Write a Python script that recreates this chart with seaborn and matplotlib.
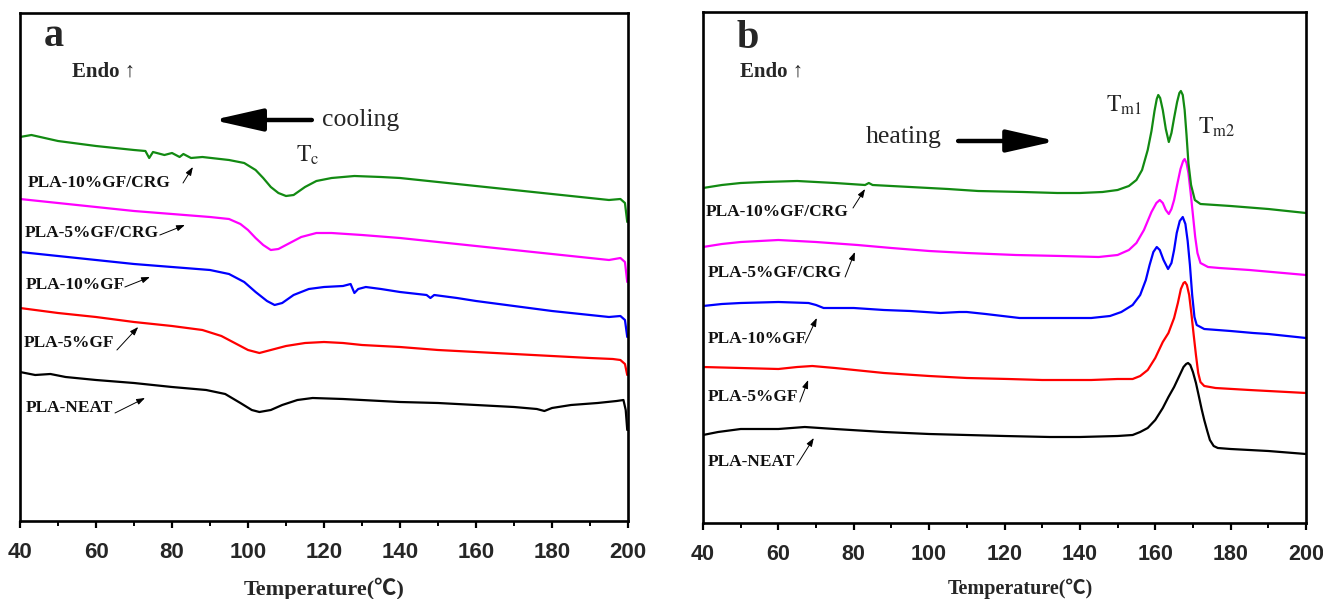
import numpy as np
import pandas as pd
import seaborn as sns
import matplotlib.pyplot as plt
from matplotlib.ticker import MultipleLocator

sns.set_theme(style="white")
plt.rcParams['font.family'] = ['Liberation Serif', 'DejaVu Sans']
plt.rcParams['mathtext.fontset'] = 'stix'

# ---------------- data (heat flow, arbitrary units) ----------------
samples = ["PLA-NEAT", "PLA-5%GF", "PLA-10%GF", "PLA-5%GF/CRG", "PLA-10%GF/CRG"]
colors = {"PLA-NEAT": "#000000", "PLA-5%GF": "#ff0000", "PLA-10%GF": "#0000ff",
          "PLA-5%GF/CRG": "#ff00ff", "PLA-10%GF/CRG": "#128a12"}

# (a) cooling
a_T_green = [40, 43, 50, 60, 70, 73, 74, 75, 78, 80, 82, 83, 85, 88, 95, 99, 102, 104, 106, 108, 110, 112,
             115, 118, 122, 128, 135, 140, 150, 160, 170, 180, 190, 195, 198, 199.2, 199.8]
a_v_green = [384, 386, 380, 375, 371, 370, 363, 369, 366, 368, 364, 367, 363, 364, 361, 358, 351, 343, 334,
             328, 325, 326, 334, 340, 343, 345, 344, 343, 339, 335, 331, 327, 323, 321, 322, 318, 299]
a_T_mag = [40, 50, 60, 70, 80, 90, 95, 98, 100, 102, 104, 106, 108, 111, 114, 118, 122, 130, 140, 150, 160,
           170, 180, 190, 195, 198, 199.2, 199.8]
a_v_mag = [322, 318, 314, 310, 307, 304, 302, 297, 291, 283, 276, 271, 272, 278, 284, 288, 288, 286, 283,
           279, 275, 271, 267, 263, 261, 263, 259, 239]
a_T_blue = [40, 50, 60, 70, 80, 90, 95, 99, 102, 105, 107, 109, 112, 116, 120, 125, 127, 128, 129, 131, 135,
            140, 147, 148, 149, 155, 160, 170, 180, 190, 195, 198, 199.2, 199.8]
a_v_blue = [269, 265, 261, 257, 254, 251, 247, 239, 229, 220, 216, 218, 226, 232, 234, 235, 237, 228, 232,
            234, 232, 229, 226, 223, 226, 223, 220, 215, 210, 206, 204, 205, 201, 184]
a_T_red = [40, 50, 60, 70, 80, 88, 93, 97, 100, 103, 106, 110, 115, 120, 125, 130, 140, 150, 160, 170, 180,
           190, 196, 198, 199.2, 199.8]
a_v_red = [213, 208, 204, 199, 195, 191, 185, 177, 171, 168, 171, 175, 178, 179, 178, 176, 174, 171, 169,
           167, 165, 163, 162, 161, 157, 146]
a_T_black = [40, 44, 48, 52, 60, 70, 80, 89, 94, 98, 101, 103, 106, 109, 113, 117, 125, 130, 140, 150, 160,
             170, 176, 178, 180, 185, 192, 197, 198.8, 199.4, 199.8]
a_v_black = [149, 146, 147, 144, 141, 138, 134, 131, 127, 118, 111, 109, 111, 116, 121, 123, 122, 121, 119,
             118, 116, 114, 112, 110, 113, 116, 118, 120, 121, 111, 91]

# (b) heating
b_T_green = [40, 45, 50, 56, 65, 75, 83, 84, 85, 95, 105, 113, 125, 134, 140, 146, 150, 153, 155, 156.5,
             158, 159, 159.8, 160.4, 160.8, 161.3, 162, 162.8, 163.6, 164.3, 165, 165.8, 166.4, 166.8, 167.3,
             167.8, 168.3, 168.8, 169.5, 170.5, 172, 176, 180, 190, 200]
b_v_green = [335, 338, 340, 341, 342, 340, 338, 340, 338, 336, 334, 332, 331, 330, 330, 331, 333, 337, 343,
             353, 373, 392, 412, 424, 428, 425, 413, 394, 381, 390, 405, 421, 430, 432, 428,
             413, 388, 360, 338, 323, 319, 318, 317, 314, 310]
b_T_mag = [40, 45, 50, 60, 70, 81, 90, 100, 110, 123, 135, 145, 150, 153, 155, 157, 159, 160.3, 161.2, 162,
           162.8, 163.6, 164.3, 165, 165.8, 166.7, 167.4, 167.8, 168.3, 168.8, 169.4, 170, 170.6, 171.2, 172,
           174, 177, 185, 200]
b_v_mag = [276, 279, 281, 283, 281, 278, 275, 272, 270, 268, 267, 266, 268, 273, 280, 293, 311, 320, 323, 320,
           313, 309, 314, 323, 338, 354, 362, 364, 360, 350, 330, 308, 286, 270, 260,
           256, 255, 253, 248]
b_T_blue = [40, 45, 50, 60, 68, 70, 72, 80, 88, 95, 103, 108, 110, 115, 124, 135, 143, 148, 151, 154, 156,
            157.5, 158.5, 159.5, 160.4, 161.2, 162.2, 163.4, 164.3, 165, 165.7, 166.5, 167.3, 168, 168.6, 169.2,
            169.8, 170.4, 171, 173, 180, 186, 190, 200]
b_v_blue = [217, 219, 220, 221, 220, 218, 215, 215, 213, 212, 210, 211, 211, 209, 205, 205, 205, 207, 211,
            218, 228, 243, 258, 271, 276, 273, 263, 254, 260, 273, 290, 302, 306, 299, 282, 258,
            228, 206, 198, 194, 192, 190, 189, 185]
b_T_red = [40, 50, 60, 65, 69, 75, 88, 100, 110, 121, 130, 143, 150, 154, 156, 158, 160, 162, 163.5, 165,
           166, 166.8, 167.5, 167.9, 168.4, 169, 169.6, 170.2, 170.8, 171.4, 172, 173, 176, 185, 200]
b_v_red = [156, 155, 154, 156, 157, 155, 150, 147, 145, 144, 143, 143, 144, 144, 147, 153, 165, 181, 190,
           205, 220, 234, 240, 241, 238, 228, 209, 188, 168, 150, 141, 137, 135, 133, 130]
b_T_black = [40, 44, 50, 60, 67, 75, 88, 100, 110, 120, 132, 140, 150, 154, 156, 158, 160, 162, 163.5, 165,
             166.5, 167.5, 168.2, 168.7, 169.3, 170, 170.8, 171.5, 172.3, 173, 173.8, 174.5, 175.5, 176.6,
             180, 190, 200]
b_v_black = [88, 91, 94, 94, 96, 94, 91, 89, 88, 87, 86, 86, 87, 88, 91, 95, 103, 115, 126, 136,
             148, 156, 159, 160, 158, 151, 140, 128, 114, 103, 92, 83, 77, 75,
             74, 72, 69]

x_ticks = [40, 60, 80, 100, 120, 140, 160, 180, 200]


def frame(series):
    rows = []
    for name, T, v in series:
        rows.append(pd.DataFrame({"T": T, "Heat flow": v, "sample": name}))
    return pd.concat(rows, ignore_index=True)


df_a = frame([("PLA-NEAT", a_T_black, a_v_black), ("PLA-5%GF", a_T_red, a_v_red),
              ("PLA-10%GF", a_T_blue, a_v_blue), ("PLA-5%GF/CRG", a_T_mag, a_v_mag),
              ("PLA-10%GF/CRG", a_T_green, a_v_green)])
df_b = frame([("PLA-NEAT", b_T_black, b_v_black), ("PLA-5%GF", b_T_red, b_v_red),
              ("PLA-10%GF", b_T_blue, b_v_blue), ("PLA-5%GF/CRG", b_T_mag, b_v_mag),
              ("PLA-10%GF/CRG", b_T_green, b_v_green)])

fig = plt.figure(figsize=(13.23, 5.99), dpi=100)
ax_a = fig.add_axes([20 / 1323, 1 - 521 / 599, 608 / 1323, 508 / 599])
ax_b = fig.add_axes([703 / 1323, 1 - 523 / 599, 603 / 1323, 511 / 599])


def style_axes(ax, ymax, tick_size, label_size):
    ax.set_xlim(40, 200)
    ax.set_ylim(0, ymax)
    ax.set_xticks(x_ticks)
    ax.set_xticklabels([str(t) for t in x_ticks], fontfamily='Liberation Sans',
                       fontweight='bold', fontsize=tick_size)
    ax.xaxis.set_minor_locator(MultipleLocator(10))
    ax.set_yticks([])
    ax.set_ylabel("")
    ax.tick_params(axis='x', which='major', direction='out', length=5, width=1.6, pad=10,
                   bottom=True, top=False, color='black')
    ax.tick_params(axis='x', which='minor', direction='out', length=3.5, width=1.4,
                   bottom=True, top=False, color='black')
    for s in ax.spines.values():
        s.set_visible(True)
        s.set_color('black')
        s.set_linewidth(1.9)
    ax.set_xlabel("Temperature(\u2103)", fontsize=label_size, fontweight='bold',
                  family=['Liberation Serif', 'Noto Sans CJK SC'])


for ax, df in ((ax_a, df_a), (ax_b, df_b)):
    sns.lineplot(data=df, x="T", y="Heat flow", hue="sample", palette=colors,
                 estimator=None, sort=False, legend=False, linewidth=1.6, ax=ax)

style_axes(ax_a, 508, 16, 16)
style_axes(ax_b, 511, 15.5, 14.5)
ax_a.xaxis.set_label_coords(0.5, -0.112)
ax_b.xaxis.set_label_coords(0.527, -0.108)

lab_kw = dict(fontsize=12.5, fontweight='bold', ha='left', va='center', color='#111111')
small_arrow = dict(arrowstyle='-|>,head_length=0.5,head_width=0.18', lw=0.7, color='black',
                   shrinkA=0, shrinkB=0, mutation_scale=10)
big_arrow = dict(arrowstyle='-|>,head_length=1.5,head_width=0.34', lw=3.2,
                 color='black', shrinkA=0, shrinkB=0, mutation_scale=20)

# panel a annotations
ax_a.text(49, 484, "a", fontsize=29, fontweight='bold', ha='center', va='center')
ax_a.text(53.7, 449, "Endo \u2191", fontsize=15, fontweight='bold', ha='left', va='center')
ax_a.annotate("", xy=(90.8, 401), xytext=(116.8, 401), arrowprops=big_arrow)
ax_a.text(119.5, 401, "cooling", fontsize=18.5, ha='left', va='center')
ax_a.text(112.6, 366, r"$\mathrm{T_c}$", fontsize=17, ha='left', va='center')
a_labels = [("PLA-10%GF/CRG", 42.1, 338, (82.9, 338), (85.5, 354)),
            ("PLA-5%GF/CRG", 41.3, 288, (76.8, 286), (83.4, 296)),
            ("PLA-10%GF", 41.6, 236, (67.6, 234), (74.2, 244)),
            ("PLA-5%GF", 41.1, 178, (65.5, 171), (71.1, 194)),
            ("PLA-NEAT", 41.6, 113, (65.0, 108), (72.9, 123))]
for txt, tx, ty, tail, head in a_labels:
    ax_a.text(tx, ty, txt, **lab_kw)
    ax_a.annotate("", xy=head, xytext=tail, arrowprops=small_arrow)

# panel b annotations
ax_b.text(51.9, 484, "b", fontsize=29, fontweight='bold', ha='center', va='center')
ax_b.text(49.8, 451, "Endo \u2191", fontsize=15, fontweight='bold', ha='left', va='center')
ax_b.text(83.2, 386, "heating", fontsize=18.5, ha='left', va='center')
ax_b.annotate("", xy=(133.7, 382), xytext=(107.7, 382), arrowprops=big_arrow)
ax_b.text(146.9, 418, r"$\mathrm{T_{m1}}$", fontsize=17, ha='left', va='center')
ax_b.text(171.3, 396, r"$\mathrm{T_{m2}}$", fontsize=17, ha='left', va='center')
b_labels = [("PLA-10%GF/CRG", 40.8, 311, (79.8, 315), (83.0, 334)),
            ("PLA-5%GF/CRG", 41.3, 250, (77.7, 246), (80.3, 271)),
            ("PLA-10%GF", 41.3, 184, (67.1, 180), (70.2, 205)),
            ("PLA-5%GF", 41.3, 126, (65.7, 121), (67.9, 143)),
            ("PLA-NEAT", 41.3, 61, (64.9, 58), (69.4, 85))]
for txt, tx, ty, tail, head in b_labels:
    ax_b.text(tx, ty, txt, **lab_kw)
    ax_b.annotate("", xy=head, xytext=tail, arrowprops=small_arrow)

fig.savefig("out.png", dpi=100, facecolor='white')
